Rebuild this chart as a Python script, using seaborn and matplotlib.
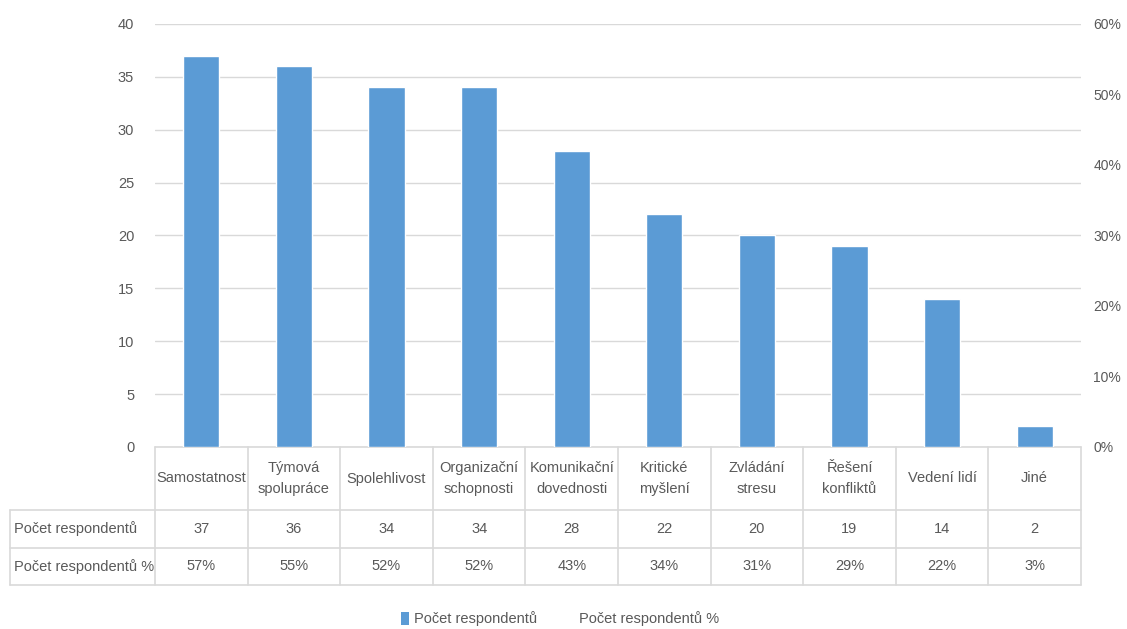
import matplotlib

matplotlib.use("Agg")
import matplotlib.pyplot as plt
import matplotlib.transforms as mtransforms
from matplotlib.lines import Line2D
from matplotlib.patches import Patch
from matplotlib.ticker import PercentFormatter
import pandas as pd
import seaborn as sns

categories = ["Samostatnost", "Týmová\nspolupráce", "Spolehlivost", "Organizační\nschopnosti",
              "Komunikační\ndovednosti", "Kritické\nmyšlení", "Zvládání\nstresu", "Řešení\nkonfliktů",
              "Vedení lidí", "Jiné"]
counts = [37, 36, 34, 34, 28, 22, 20, 19, 14, 2]
percents = [57, 55, 52, 52, 43, 34, 31, 29, 22, 3]
row_labels = ["Počet respondentů", "Počet respondentů %"]

BLUE = "#5B9BD5"
GRID = "#D9D9D9"
TXT = "#595959"
FS = 10.5

sns.set_theme(style="white")
plt.rcParams["font.family"] = ["Liberation Sans", "DejaVu Sans"]

W, H = 1127, 629
fig = plt.figure(figsize=(W / 100, H / 100), dpi=100)
x0, x1, ytop, ybot = 155, 1081, 24, 447
ax = fig.add_axes([x0 / W, 1 - ybot / H, (x1 - x0) / W, (ybot - ytop) / H])

df = pd.DataFrame({"cat": categories, "n": counts})
sns.barplot(data=df, x="cat", y="n", color=BLUE, width=0.39, saturation=1, ax=ax, zorder=3)
ax.set_ylim(0, 40)
ax.set_xlim(-0.5, len(categories) - 0.5)
ax.set_yticks(range(0, 41, 5))
ax.yaxis.grid(True, color=GRID, lw=1, zorder=0)
ax.set_xlabel("")
ax.set_ylabel("")
ax.set_xticks([])
ax.tick_params(axis="y", length=0, pad=15, labelcolor=TXT, labelsize=FS)
for s in ax.spines.values():
    s.set_visible(False)

ax2 = ax.twinx()
ax2.set_ylim(0, 60)
ax2.set_yticks(range(0, 61, 10))
ax2.yaxis.set_major_formatter(PercentFormatter(decimals=0))
ax2.tick_params(axis="y", length=0, pad=9, labelcolor=TXT, labelsize=10)
for s in ax2.spines.values():
    s.set_visible(False)

# ---- data table below the axis ----------------------------------------------
ah = ybot - ytop
y_head = -(510 - ybot) / ah
y_r1 = -(548 - ybot) / ah
y_r2 = -(585 - ybot) / ah
left = (10 - x0) / (x1 - x0)
trD = mtransforms.blended_transform_factory(ax.transData, ax.transAxes)
trA = ax.transAxes
lk = dict(color=GRID, lw=1.2, clip_on=False, zorder=1)

ax.add_line(Line2D([0, 1], [0, 0], transform=trA, **lk))
for yy in (y_head, y_r1, y_r2):
    ax.add_line(Line2D([left, 1], [yy, yy], transform=trA, **lk))
ax.add_line(Line2D([left, left], [y_head, y_r2], transform=trA, **lk))
for i in range(len(categories) + 1):
    ax.add_line(Line2D([i - 0.5, i - 0.5], [0, y_r2], transform=trD, **lk))

tk = dict(color=TXT, fontsize=FS, ha="center", va="center", clip_on=False, linespacing=1.6)
for i, (c, n, p) in enumerate(zip(categories, counts, percents)):
    ax.text(i, y_head / 2, c, transform=trD, **tk)
    ax.text(i, (y_head + y_r1) / 2, str(n), transform=trD, **tk)
    ax.text(i, (y_r1 + y_r2) / 2, f"{p}%", transform=trD, **tk)
for lab, yy in zip(row_labels, [(y_head + y_r1) / 2, (y_r1 + y_r2) / 2]):
    ax.text(left + 0.004, yy, lab, transform=trA, color=TXT, fontsize=FS,
            ha="left", va="center", clip_on=False)

handles = [Patch(facecolor=BLUE, edgecolor="none"),
           Line2D([], [], color="none")]
fig.legend(handles, row_labels, loc="center", bbox_to_anchor=(560 / W, 1 - 619 / H),
           ncol=2, frameon=False, fontsize=FS, labelcolor=TXT, handlelength=0.6,
           handleheight=0.9, handletextpad=0.3, columnspacing=2.0)

fig.savefig("out.png", dpi=100)
